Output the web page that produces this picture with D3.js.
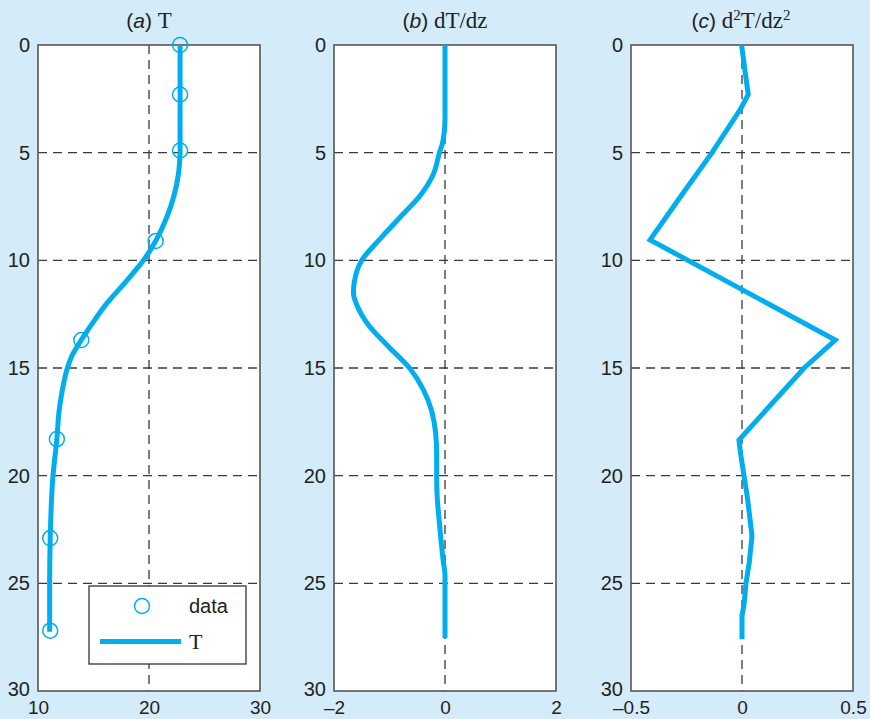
<!DOCTYPE html>
<html>
<head>
<meta charset="utf-8">
<script src="https://cdn.jsdelivr.net/npm/d3@7"></script>
<style>
  html, body { margin: 0; padding: 0; background: #d4ecf9; }
  svg { display: block; }
</style>
</head>
<body>
<svg id="chart" width="870" height="719"></svg>
<script>
// ---------- data ----------
const depthTicks = [0, 5, 10, 15, 20, 25, 30];

const xTicksA = [10, 20, 30];
const xLabelsA = ["10", "20", "30"];
const xTicksB = [-2, 0, 2];
const xLabelsB = ["\u20132", "0", "2"];
const xTicksC = [-0.5, 0, 0.5];
const xLabelsC = ["\u20130.5", "0", "0.5"];

// measured data (depth z, temperature T)
const dataZ = [0, 2.3, 4.9, 9.1, 13.7, 18.3, 22.9, 27.2];
const dataT = [22.8, 22.8, 22.8, 20.6, 13.9, 11.7, 11.1, 11.1];

// T curve
const curveTz = [0, 2.3, 4.9, 5.5, 6, 7, 8, 9.1, 10, 11, 12, 13, 13.7, 14.5, 15, 16, 17, 18.3, 20, 22.9, 25, 27.25];
const curveT  = [22.8, 22.8, 22.8, 22.75, 22.65, 22.25, 21.6, 20.6, 19.5, 17.9, 16.2, 14.8, 13.9, 13.0, 12.65, 12.2, 11.9, 11.7, 11.35, 11.1, 11.05, 11.05];

// dT/dz curve
const dTz = [0, 3.5, 4.5, 5, 6, 7, 8, 9, 10, 11, 11.5, 12, 13, 14, 15, 16, 17, 18, 19, 20, 21, 22, 23, 24, 24.6, 25, 27.55];
const dT  = [0, 0, -0.04, -0.1, -0.21, -0.45, -0.81, -1.17, -1.5, -1.634, -1.65, -1.6, -1.38, -1.02, -0.64, -0.39, -0.24, -0.17, -0.15, -0.15, -0.14, -0.108, -0.072, -0.03, 0, 0, 0];

// d2T/dz2 curve
const d2Tz = [0, 2.3, 3.0, 5, 7, 9.05, 13.7, 15, 18.35, 19, 20, 21, 22, 22.8, 24, 25, 26, 26.5, 27.6];
const d2T  = [-0.002, 0.028, -0.008, -0.135, -0.274, -0.414, 0.42, 0.28, -0.014, -0.006, 0.009, 0.024, 0.036, 0.045, 0.033, 0.018, 0.009, 0.0, 0.0];

// ---------- drawing ----------
const svg = d3.select("#chart");
const LINE = "#00aeef";
const SANS = "'Liberation Sans', Arial, Helvetica, sans-serif";
const SERIF = "'Liberation Serif', 'Times New Roman', serif";

const y = d3.scaleLinear().domain([0, 30]).range([45, 691]);

const panels = [
  { x0: 38,  x1: 260, domain: [10, 30],    ticks: xTicksA, labels: xLabelsA, grid: 20 },
  { x0: 334, x1: 556, domain: [-2, 2],     ticks: xTicksB, labels: xLabelsB, grid: 0 },
  { x0: 631, x1: 853, domain: [-0.5, 0.5], ticks: xTicksC, labels: xLabelsC, grid: 0 }
];

panels.forEach(p => {
  p.x = d3.scaleLinear().domain(p.domain).range([p.x0, p.x1]);
  const g = svg.append("g");
  p.g = g;
  g.append("rect")
    .attr("x", p.x0).attr("y", y(0))
    .attr("width", p.x1 - p.x0).attr("height", y(30) - y(0))
    .attr("fill", "#fff");
  g.selectAll("line.hg").data(depthTicks.slice(1, -1)).join("line")
    .attr("x1", p.x0).attr("x2", p.x1)
    .attr("y1", d => y(d)).attr("y2", d => y(d))
    .attr("stroke", "#3a3a3a").attr("stroke-width", 1.3)
    .attr("stroke-dasharray", "9,6");
  g.append("line")
    .attr("x1", p.x(p.grid)).attr("x2", p.x(p.grid))
    .attr("y1", y(0)).attr("y2", y(30))
    .attr("stroke", "#3a3a3a").attr("stroke-width", 1.3)
    .attr("stroke-dasharray", "9,6");
  const ya = d3.axisLeft(y).tickValues(depthTicks).tickSize(0).tickPadding(8)
    .tickFormat(d => String(d));
  const yg = g.append("g").attr("transform", `translate(${p.x0},0)`).call(ya);
  yg.select(".domain").remove();
  yg.selectAll("text").attr("font-family", SANS).attr("font-size", 20)
    .attr("fill", "#222");
  // lift the lowest label slightly so it clears the x labels
  yg.selectAll(".tick").filter(d => d === 30).select("text").attr("dy", "0.2em");
  const xa = d3.axisBottom(p.x).tickValues(p.ticks).tickSize(0).tickPadding(0)
    .tickFormat((d, i) => p.labels[i]);
  const xg = g.append("g").attr("transform", `translate(0,${y(30)})`).call(xa);
  xg.select(".domain").remove();
  xg.selectAll("text").attr("font-family", SANS).attr("font-size", 19)
    .attr("fill", "#222").attr("dy", null).attr("y", 23);
});

// legend (panel a)
{
  const p = panels[0];
  const lg = p.g.append("g");
  lg.append("rect").attr("x", 89).attr("y", 586).attr("width", 157).attr("height", 78)
    .attr("fill", "#fff").attr("stroke", "#333").attr("stroke-width", 1.3);
  lg.append("circle").attr("cx", 142).attr("cy", 606).attr("r", 7.5)
    .attr("fill", "none").attr("stroke", LINE).attr("stroke-width", 1.5);
  lg.append("text").attr("x", 189).attr("y", 613).text("data")
    .attr("font-family", SANS).attr("font-size", 20).attr("fill", "#222");
  lg.append("line").attr("x1", 100).attr("x2", 181).attr("y1", 641.5).attr("y2", 641.5)
    .attr("stroke", LINE).attr("stroke-width", 5);
  lg.append("text").attr("x", 189).attr("y", 649).text("T")
    .attr("font-family", SERIF).attr("font-size", 22).attr("fill", "#222");
}

// frames
panels.forEach(p => {
  p.g.append("rect")
    .attr("x", p.x0).attr("y", y(0))
    .attr("width", p.x1 - p.x0).attr("height", y(30) - y(0))
    .attr("fill", "none").attr("stroke", "#555").attr("stroke-width", 1.6);
});

// curves
function drawCurve(p, zs, vs, curve) {
  const pts = zs.map((z, i) => [vs[i], z]);
  const line = d3.line().x(d => p.x(d[0])).y(d => y(d[1])).curve(curve);
  p.g.append("path").datum(pts).attr("d", line)
    .attr("fill", "none").attr("stroke", LINE).attr("stroke-width", 5)
    .attr("stroke-linejoin", "miter");
}
drawCurve(panels[0], curveTz, curveT, d3.curveMonotoneY);
drawCurve(panels[1], dTz, dT, d3.curveMonotoneY);
drawCurve(panels[2], d2Tz, d2T, d3.curveLinear);

// data circles
panels[0].g.selectAll("circle.data").data(dataZ.map((z, i) => [dataT[i], z])).join("circle")
  .attr("cx", d => panels[0].x(d[0])).attr("cy", d => y(d[1])).attr("r", 7.5)
  .attr("fill", "none").attr("stroke", LINE).attr("stroke-width", 1.5);

// titles
function title(cx, parts) {
  const t = svg.append("text").attr("x", cx).attr("y", 28)
    .attr("text-anchor", "middle").attr("fill", "#222");
  parts.forEach(pt => {
    const s = t.append("tspan").text(pt.t)
      .attr("font-family", pt.serif ? SERIF : SANS)
      .attr("font-size", pt.size || (pt.serif ? 23 : 21));
    if (pt.italic) s.attr("font-style", "italic");
    if (pt.dy) s.attr("dy", pt.dy);
  });
}
title(149, [{t: "("}, {t: "a", italic: true}, {t: ")"}, {t: "\u00a0T", serif: true}]);
title(445, [{t: "("}, {t: "b", italic: true}, {t: ")"}, {t: "\u00a0dT/dz", serif: true}]);
title(741, [{t: "("}, {t: "c", italic: true}, {t: ")"}, {t: "\u00a0d", serif: true},
  {t: "2", serif: true, size: 15, dy: -8}, {t: "T/dz", serif: true, dy: 8},
  {t: "2", serif: true, size: 15, dy: -8}]);
</script>
</body>
</html>
